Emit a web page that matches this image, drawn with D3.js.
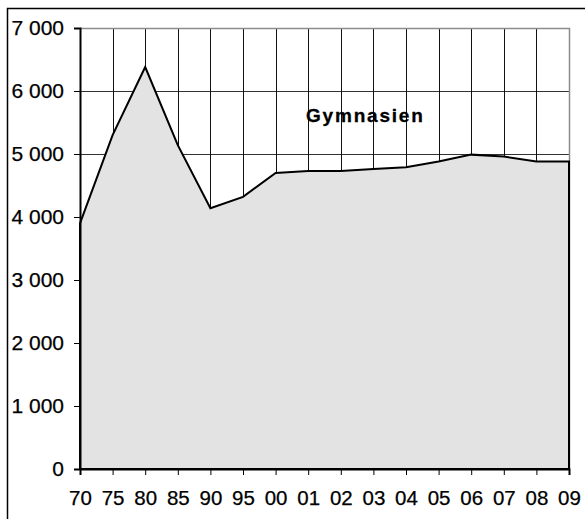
<!DOCTYPE html>
<html>
<head>
<meta charset="utf-8">
<script src="https://cdn.jsdelivr.net/npm/d3@7"></script>
<style>
  body { margin: 0; background: #fff; }
  svg { display: block; font-family: "Liberation Sans", Arial, sans-serif; }
</style>
</head>
<body>
<svg id="chart" width="585" height="519"></svg>
<script>
const years = ['70','75','80','85','90','95','00','01','02','03','04','05','06','07','08','09']
const pupils = [3900, 5300, 6380, 5140, 4140, 4320, 4700, 4730, 4730, 4760, 4790, 4880, 4990, 4960, 4880, 4880]
const yTicks = [0, 1000, 2000, 3000, 4000, 5000, 6000, 7000]
const title = 'Gymnasien'

const svg = d3.select('#chart')
const plotLeft = 80, plotRight = 569, plotTop = 28, plotBottom = 469
const fontFam = '"Liberation Sans", Arial, sans-serif'

const x = d3.scalePoint().domain(years).range([plotLeft, plotRight])
const y = d3.scaleLinear().domain([0, 7000]).range([plotBottom, plotTop])
const fmt = v => d3.format(',')(v).replace(',', ' ')

// outer frame
svg.append('rect')
  .attr('x', 7.5).attr('y', 8.5).attr('width', 700).attr('height', 700)
  .attr('fill', 'none').attr('stroke', '#000').attr('stroke-width', 1.5)

// grid
const grid = svg.append('g').attr('class', 'grid')
grid.selectAll('line.h').data(yTicks.filter(d => d > 0 && d < 7000)).join('line')
  .attr('class', 'h')
  .attr('x1', plotLeft).attr('x2', plotRight)
  .attr('y1', d => Math.round(y(d)) + 0.5).attr('y2', d => Math.round(y(d)) + 0.5)
  .attr('stroke', '#333').attr('stroke-width', 1)
grid.selectAll('line.v').data(years.slice(1, -1)).join('line')
  .attr('class', 'v')
  .attr('x1', d => Math.round(x(d)) + 0.5).attr('x2', d => Math.round(x(d)) + 0.5)
  .attr('y1', plotTop).attr('y2', plotBottom)
  .attr('stroke', '#111').attr('stroke-width', 1)
// plot border top/right (grey)
svg.append('path')
  .attr('d', `M${plotLeft},${plotTop + 0.5}H${plotRight + 0.5}V${plotBottom}`)
  .attr('fill', 'none').attr('stroke', '#8c8c8c').attr('stroke-width', 1.5)

// area
const area = d3.area().x((d, i) => x(years[i])).y0(y(0)).y1(d => y(d))
svg.append('path')
  .datum(pupils)
  .attr('d', area)
  .attr('fill', '#e3e3e3')
  .attr('stroke', '#000').attr('stroke-width', 2).attr('stroke-linejoin', 'miter')

// axes
const yAxis = d3.axisLeft(y).tickValues(yTicks).tickFormat(fmt).tickSize(6).tickPadding(10)
const gy = svg.append('g').attr('transform', `translate(${plotLeft},0)`).call(yAxis)
  .attr('font-family', fontFam).attr('font-size', 21)
gy.select('.domain').attr('stroke-width', 2)
gy.selectAll('text').attr('fill', '#000').attr('stroke', '#000').attr('stroke-width', 0.25)

const xAxis = d3.axisBottom(x).tickSize(6).tickPadding(15)
const gx = svg.append('g').attr('transform', `translate(0,${plotBottom})`).call(xAxis)
  .attr('font-family', fontFam).attr('font-size', 20.5)
gx.select('.domain').attr('stroke-width', 2)
gx.selectAll('text').attr('fill', '#000').attr('stroke', '#000').attr('stroke-width', 0.25)

svg.append('text')
  .attr('x', 306).attr('y', 122)
  .style('font-size', '19px').attr('font-weight', 'bold')
  .attr('letter-spacing', 1.8)
  .attr('stroke', '#000').attr('stroke-width', 0.3)
  .text(title)
</script>
</body>
</html>
